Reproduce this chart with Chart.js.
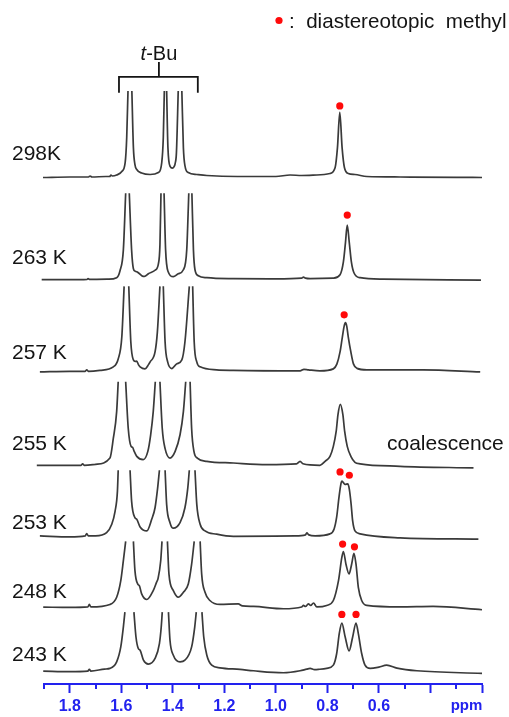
<!DOCTYPE html>
<html>
<head>
<meta charset="utf-8">
<title>VT 1H NMR</title>
<script src="https://cdn.jsdelivr.net/npm/chart.js@4.4.1/dist/chart.umd.min.js"></script>
<style>
  html, body { margin: 0; padding: 0; background: #fff; }
  #wrap { position: relative; width: 509px; height: 717px; }
</style>
</head>
<body>
<div id="wrap"><canvas id="nmr"></canvas></div>
<script>
// ====== DATA ======
const TEMPS = ['298K', '263 K', '257 K', '255 K', '253 K', '248 K', '243 K'];

// [ppm, intensity] - null marks a t-Bu top that runs off the plot
const SPEC_298 = [[1.904,0],[1.80,0.5],[1.727,0.5],[1.721,1.5],[1.714,0.5],[1.66,1],[1.645,1],[1.640,2.5],[1.635,1.5],[1.618,2.5],[1.598,6],[1.585,15],[1.579,40],[1.574,87],[1.567,null],[1.559,87],[1.553,30],[1.547,13],[1.540,8],[1.521,4.5],[1.488,3],[1.456,5],[1.443,15],[1.437,40],[1.433,87],[1.428,null],[1.424,87],[1.419,30],[1.410,11],[1.402,9.5],[1.395,11],[1.391,14],[1.386,25],[1.379,87],[1.372,null],[1.365,87],[1.359,30],[1.353,12],[1.340,5],[1.307,3],[1.268,2],[1.15,1],[1.0,1],[0.945,2.5],[0.90,2],[0.841,2.5],[0.79,4],[0.770,10],[0.761,30],[0.752,65.5],[0.743,30],[0.734,10],[0.719,4],[0.693,3],[0.647,1],[0.518,0.5],[0.30,0.2],[0.200,0]];
const SPEC_263 = [[1.909,0],[1.80,0],[1.733,0.3],[1.729,1.2],[1.724,0.3],[1.65,0.5],[1.618,2],[1.605,9],[1.592,30],[1.583,87],[1.576,null],[1.569,87],[1.560,30],[1.553,11],[1.546,8.5],[1.540,8],[1.527,5.5],[1.515,3.3],[1.508,3.5],[1.495,6],[1.469,9.5],[1.456,16],[1.450,35],[1.446,87],[1.440,null],[1.434,87],[1.428,30],[1.418,8],[1.398,3],[1.379,6],[1.359,10],[1.346,30],[1.338,87],[1.332,null],[1.326,87],[1.320,30],[1.314,10],[1.301,4],[1.268,2],[1.165,1],[1.0,0.8],[0.90,1.5],[0.893,2.5],[0.885,1.5],[0.867,1],[0.777,1.5],[0.751,5],[0.738,18],[0.730,37],[0.723,55],[0.715,37],[0.707,18],[0.697,7],[0.673,2],[0.584,0.5],[0.204,-0.5]];
const SPEC_257 = [[1.916,0],[1.80,0.5],[1.740,0.5],[1.734,2],[1.728,0.5],[1.683,1.5],[1.631,5],[1.612,13],[1.598,35],[1.589,86],[1.580,null],[1.571,86],[1.563,30],[1.553,12],[1.546,10.5],[1.540,10.7],[1.533,7],[1.527,5],[1.508,3],[1.495,7],[1.488,10],[1.469,20],[1.460,40],[1.450,86],[1.443,null],[1.437,86],[1.430,30],[1.420,10],[1.404,3.3],[1.385,8],[1.365,12],[1.353,30],[1.336,86],[1.329,null],[1.323,86],[1.317,30],[1.307,10],[1.294,5],[1.230,2],[1.165,1.5],[0.906,1],[0.891,2.5],[0.874,2],[0.829,1],[0.777,3],[0.763,8],[0.751,20],[0.742,35],[0.735,46],[0.730,49.5],[0.725,46],[0.719,35],[0.709,20],[0.699,8],[0.685,3.5],[0.647,2],[0.429,2],[0.207,0]];
const SPEC_255 = [[1.928,1],[1.80,1],[1.756,1],[1.750,2.5],[1.744,1],[1.70,2],[1.644,8.3],[1.631,28],[1.618,55],[1.612,85],[1.597,null],[1.583,85],[1.573,38],[1.562,20],[1.556,19],[1.550,15],[1.540,10],[1.515,6.7],[1.497,15],[1.486,31.7],[1.476,55],[1.468,85],[1.459,null],[1.450,85],[1.441,38],[1.430,17.7],[1.411,8.3],[1.391,15],[1.372,31.7],[1.359,55],[1.350,85],[1.342,null],[1.333,85],[1.327,38],[1.318,15],[1.305,8.3],[1.268,5],[1.165,3.3],[1.035,1.7],[0.92,2.5],[0.906,5],[0.895,2.5],[0.829,1],[0.809,5],[0.790,10],[0.777,20],[0.766,35],[0.759,52],[0.750,62.3],[0.740,52],[0.733,35],[0.723,20],[0.709,10],[0.693,4],[0.673,2.5],[0.518,0],[0.233,-1.7]];
const SPEC_253 = [[1.916,1],[1.80,0],[1.740,1],[1.734,3.3],[1.728,1],[1.70,1],[1.657,4.3],[1.637,12.7],[1.624,26],[1.615,46],[1.612,67],[1.589,null],[1.566,67],[1.560,36],[1.547,19.3],[1.540,17.7],[1.527,10],[1.501,6],[1.482,17.7],[1.469,29.3],[1.459,49],[1.452,67],[1.441,null],[1.430,67],[1.424,32.7],[1.411,14.3],[1.398,8.7],[1.372,14.3],[1.353,29.3],[1.342,49],[1.336,67],[1.325,null],[1.314,67],[1.307,32.7],[1.294,12.7],[1.275,6],[1.230,2.7],[1.165,0.5],[0.926,1],[0.885,2],[0.880,4],[0.872,2],[0.848,1],[0.790,3],[0.774,8],[0.764,20],[0.755,40],[0.747,54],[0.744,56],[0.738,54.5],[0.731,52.7],[0.721,53.3],[0.715,48],[0.708,33],[0.702,16],[0.693,6],[0.673,3],[0.518,-1],[0.214,-2.3]];
const SPEC_248 = [[1.903,0.8],[1.80,0.5],[1.730,1],[1.724,3.5],[1.718,1],[1.644,3.5],[1.618,10.8],[1.602,27.5],[1.592,47.5],[1.583,67],[1.568,null],[1.553,67],[1.547,37.5],[1.536,24],[1.530,22.5],[1.521,14.2],[1.501,8.5],[1.476,17.5],[1.463,26],[1.457,30],[1.447,47.5],[1.442,67],[1.431,null],[1.421,67],[1.415,34],[1.398,17.5],[1.379,10.8],[1.359,15.8],[1.340,24],[1.327,44],[1.317,67],[1.305,null],[1.294,67],[1.288,34],[1.275,15.8],[1.256,7.5],[1.217,3.5],[1.146,4],[1.13,2],[1.087,1.5],[0.971,-0.8],[0.90,1],[0.893,2.5],[0.885,1.5],[0.874,4],[0.865,2.5],[0.854,5],[0.841,1],[0.803,2.5],[0.777,7.5],[0.757,27.5],[0.744,50.8],[0.738,56.8],[0.728,44],[0.716,34.2],[0.706,44],[0.697,54.8],[0.689,44],[0.680,20.8],[0.667,7.5],[0.647,2.5],[0.518,1],[0.390,1.5],[0.200,-1.8]];
const SPEC_243 = [[1.903,1],[1.80,0.5],[1.730,1],[1.724,2.7],[1.718,1],[1.665,3],[1.644,3.7],[1.618,10.3],[1.602,25.3],[1.592,45.3],[1.586,60.3],[1.568,null],[1.551,60.3],[1.543,35.3],[1.534,23.7],[1.527,22],[1.514,12],[1.495,8],[1.469,13.7],[1.452,28.7],[1.445,45.3],[1.441,60.3],[1.429,null],[1.417,60.3],[1.411,32],[1.398,17],[1.372,10.3],[1.353,12],[1.327,25.3],[1.315,45.3],[1.309,60.3],[1.298,null],[1.287,60.3],[1.280,35.3],[1.268,17],[1.249,7],[1.217,4.3],[1.139,2.7],[1.087,1.3],[0.971,-0.7],[0.906,1.3],[0.880,3],[0.867,3.7],[0.850,2.5],[0.835,2.7],[0.803,3.7],[0.777,7],[0.764,18.7],[0.754,38.7],[0.744,49.3],[0.731,35.3],[0.716,21.3],[0.702,35.3],[0.689,49.3],[0.680,38.7],[0.667,18.7],[0.654,7],[0.634,3.7],[0.600,5],[0.570,7],[0.530,4],[0.453,1.3],[0.200,-1.3]];
const SPECTRA = [SPEC_298, SPEC_263, SPEC_257, SPEC_255, SPEC_253, SPEC_248, SPEC_243];

// red dots on the diastereotopic methyl signals, [ppm, intensity]
const DOTS = [
    [[0.752, 72]],
    [[0.723, 65]],
    [[0.735, 57.3]],
    [],
    [[0.751, 65.3], [0.715, 62]],
    [[0.741, 64.2], [0.695, 61.5]],
    [[0.744, 58], [0.689, 58]],
];

const TICK_VALUES = [1.9, 1.8, 1.7, 1.6, 1.5, 1.4, 1.3, 1.2, 1.1, 1.0, 0.9, 0.8, 0.7, 0.6, 0.5, 0.4, 0.3, 0.2];
const TICK_LABELS = ['1.8', '1.6', '1.4', '1.2', '1.0', '0.8', '0.6'];

// ====== LAYOUT ======
const OFFSET = [509.5, 406.7, 314, 219, 148, 76.5, 12];   // stacking offset of each trace
const LABEL_LIFT = [23.5, 21.3, 18.3, 22, 13.3, 15.5, 17];
const BLUE = '#2222ee';
const INK = '#141414';
const FONT = '"Liberation Sans", Arial, sans-serif';

const isMajor = v => Math.round(v * 10) % 2 === 0;

const datasets = SPECTRA.map((spec, i) => ({
    type: 'line',
    data: spec.map(([x, h]) => ({ x, y: h === null ? null : h + OFFSET[i] })),
    borderColor: '#3a3a3a',
    borderWidth: 1.7,
    pointRadius: 0,
    cubicInterpolationMode: 'monotone',
    spanGaps: false,
    clip: false,
}));

datasets.push({
    type: 'scatter',
    data: DOTS.flatMap((d, i) => d.map(([x, h]) => ({ x, y: h + OFFSET[i] }))),
    backgroundColor: '#ff0a0a',
    borderWidth: 0,
    pointRadius: 3.6,
    clip: false,
});

// ====== TEXT, BRACKET, MINOR TICKS ======
const annotate = {
    id: 'annotate',
    afterDraw(chart) {
        const { ctx, scales: { x, y } } = chart;
        ctx.save();

        // minor ticks
        ctx.strokeStyle = BLUE;
        ctx.lineWidth = 2;
        TICK_VALUES.filter(v => !isMajor(v)).forEach(v => {
            const px = Math.round(x.getPixelForValue(v));
            ctx.beginPath();
            ctx.moveTo(px, x.top);
            ctx.lineTo(px, x.top + 5);
            ctx.stroke();
        });

        ctx.fillStyle = BLUE;
        ctx.font = 'bold 15px ' + FONT;
        ctx.textAlign = 'center';
        ctx.textBaseline = 'middle';
        ctx.fillText('ppm', x.getPixelForValue(0.26), 706);

        // temperature labels
        ctx.fillStyle = INK;
        ctx.font = '21px ' + FONT;
        ctx.textAlign = 'left';
        TEMPS.forEach((t, i) => ctx.fillText(t, 12, y.getPixelForValue(OFFSET[i] + LABEL_LIFT[i])));
        ctx.fillText('coalescence', 387, y.getPixelForValue(OFFSET[3] + LABEL_LIFT[3]));

        // t-Bu bracket
        const bx0 = x.getPixelForValue(1.609), bx1 = x.getPixelForValue(1.303), bxm = x.getPixelForValue(1.454);
        const byBar = y.getPixelForValue(610.7), byEnd = y.getPixelForValue(594.7), byTop = y.getPixelForValue(625.7);
        ctx.strokeStyle = INK;
        ctx.lineWidth = 1.8;
        ctx.beginPath();
        ctx.moveTo(bx0, byEnd); ctx.lineTo(bx0, byBar); ctx.lineTo(bx1, byBar); ctx.lineTo(bx1, byEnd);
        ctx.moveTo(bxm, byBar); ctx.lineTo(bxm, byTop);
        ctx.stroke();

        ctx.textBaseline = 'alphabetic';
        const ty = y.getPixelForValue(628);
        ctx.font = 'italic 20px ' + FONT;
        const tw = ctx.measureText('t').width;
        ctx.font = '20px ' + FONT;
        const rest = ctx.measureText('-Bu').width;
        const tx = bxm - (tw + rest) / 2;
        ctx.font = 'italic 20px ' + FONT;
        ctx.fillText('t', tx, ty);
        ctx.font = '20px ' + FONT;
        ctx.fillText('-Bu', tx + tw, ty);

        // legend
        ctx.fillStyle = '#ff0a0a';
        ctx.beginPath();
        ctx.arc(279, 20.5, 3.6, 0, Math.PI * 2);
        ctx.fill();
        ctx.fillStyle = INK;
        ctx.font = '20.6px ' + FONT;
        ctx.fillText(':  diastereotopic  methyl', 289, 28.3);

        ctx.restore();
    }
};

new Chart(document.getElementById('nmr'), {
    data: { datasets },
    options: {
        responsive: true,
        maintainAspectRatio: false,
        animation: false,
        layout: { padding: { left: 44, right: 27, top: 0, bottom: 0 } },
        plugins: { legend: { display: false }, tooltip: { enabled: false } },
        scales: {
            x: {
                type: 'linear',
                min: 0.2,
                max: 1.9,
                reverse: true,
                afterBuildTicks: scale => { scale.ticks = TICK_VALUES.map(v => ({ value: v })); },
                afterFit: scale => { scale.height = 33; },
                border: { display: true, color: BLUE, width: 2 },
                grid: {
                    drawOnChartArea: false,
                    tickLength: 9,
                    tickWidth: 2,
                    tickColor: c => (c.tick && isMajor(c.tick.value)) ? BLUE : 'rgba(0,0,0,0)',
                },
                ticks: {
                    autoSkip: false,
                    maxRotation: 0,
                    padding: 4,
                    color: BLUE,
                    font: { family: FONT, size: 16, weight: 'bold' },
                    callback: v => TICK_LABELS.includes(v.toFixed(1)) ? v.toFixed(1) : '',
                },
            },
            y: { display: false, min: 0, max: 684 },
        },
    },
    plugins: [annotate],
});
</script>
</body>
</html>
